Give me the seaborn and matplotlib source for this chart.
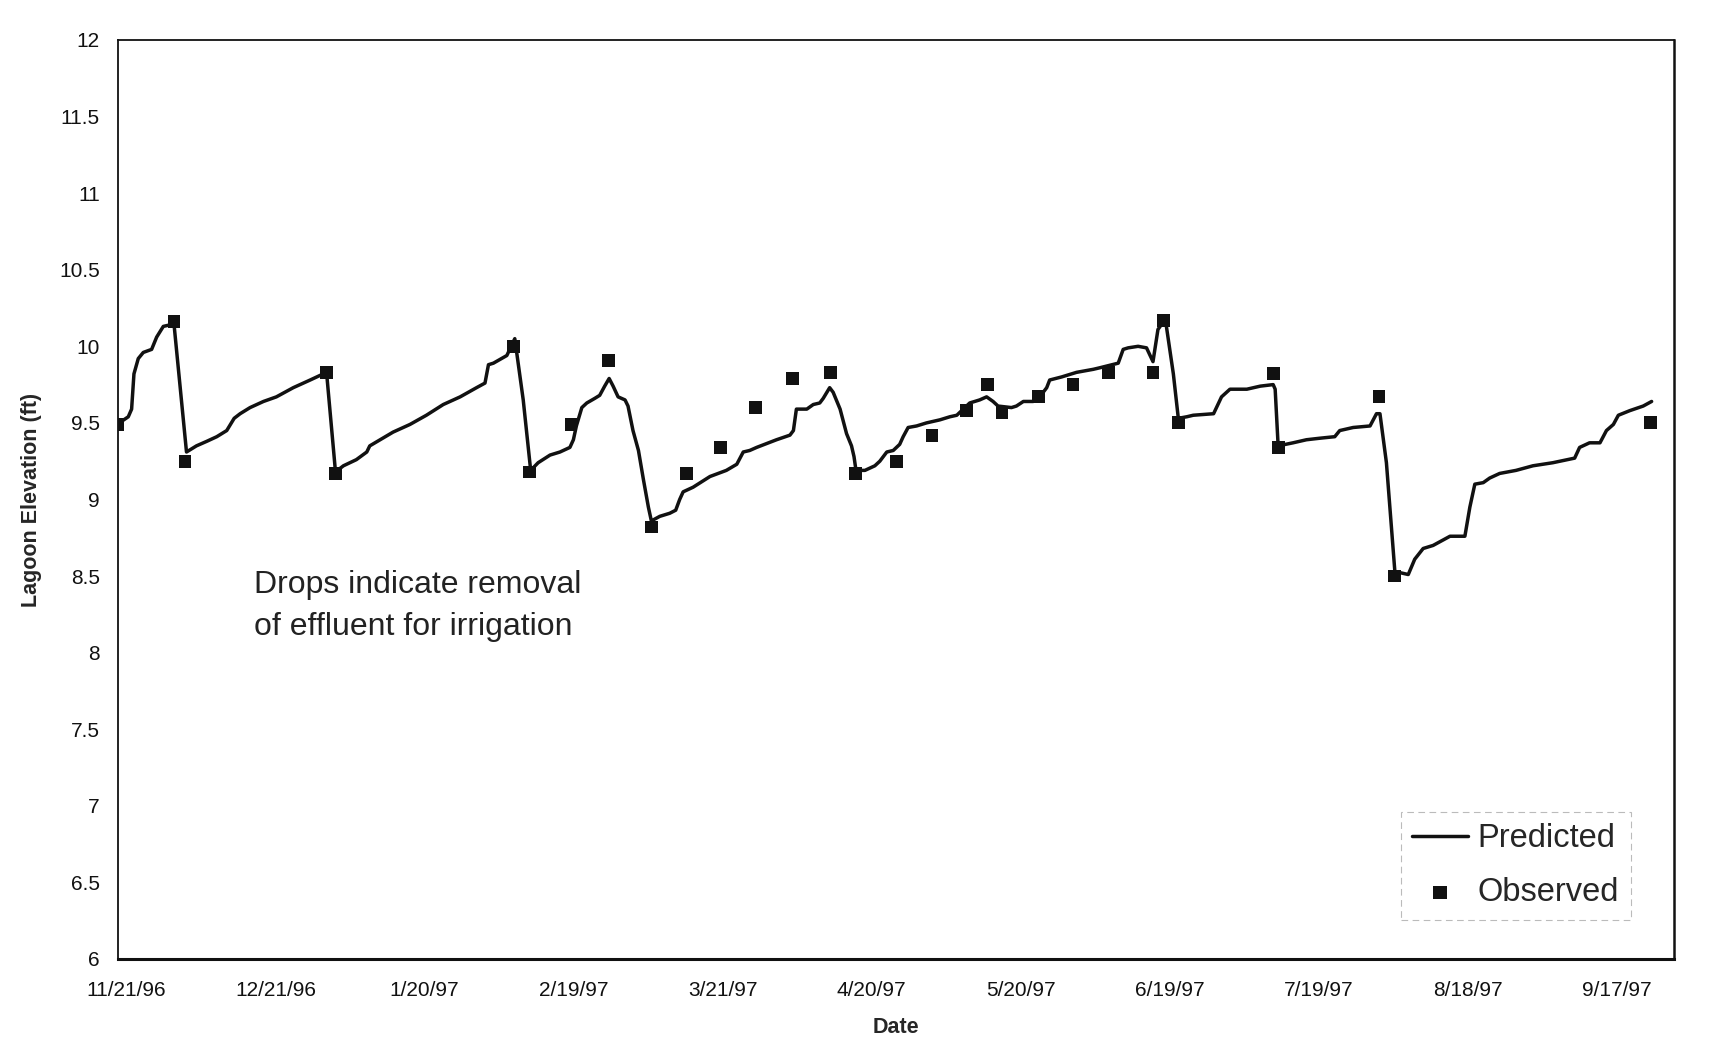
import matplotlib
matplotlib.use("Agg")
import matplotlib.pyplot as plt
from matplotlib.transforms import ScaledTranslation
import numpy as np
import pandas as pd
import seaborn as sns

START = pd.Timestamp("1996-11-21")

# predicted lagoon elevation, days after 11/21/96 and elevation (ft)
pred_days = [0.27, 2.08, 2.75, 3.22, 4.09, 5.1, 6.78, 7.79, 9.13, 10.47,
             11.27, 13.8, 15.8, 17.9, 19.9, 21.9, 23.4, 24.6, 26.6, 29.3,
             31.9, 35.3, 38.7, 41.3, 42.0, 43.8, 45.4, 48.0, 50.1, 50.7,
             55.4, 58.8, 62.1, 65.5, 68.9, 72.2, 73.9, 74.6, 75.6, 77.2,
             78.3, 79.9, 81.6, 83.1, 84.6, 87.0, 89.0, 91.0, 91.7, 92.3,
             93.4, 94.4, 96.0, 97.0, 98.0, 98.9, 99.7, 100.7, 102.1, 102.7,
             103.7, 104.8, 105.8, 106.8, 107.4, 109.1, 111.1, 112.3, 113.1, 113.8,
             115.8, 119.2, 122.5, 124.6, 125.9, 127.2, 128.6, 132.6, 135.3, 136.0,
             136.6, 138.7, 140.0, 141.3, 142.0, 143.3, 144.0, 145.4, 146.7, 147.7,
             148.2, 148.6, 150.4, 152.4, 153.4, 154.8, 156.1, 157.4, 158.1, 159.1,
             160.8, 162.8, 165.5, 167.5, 168.9, 170.2, 171.5, 173.5, 174.9, 176.2,
             177.2, 179.9, 180.9, 182.3, 184.3, 185.6, 187.0, 187.6, 190.0, 193.0,
             196.4, 197.7, 201.4, 202.4, 203.4, 205.4, 207.1, 208.4, 209.4, 210.5,
             211.1, 212.5, 213.5, 215.2, 216.5, 220.6, 222.2, 223.9, 227.3, 230.0,
             232.6, 233.0, 233.6, 236.6, 239.3, 242.0, 245.0, 246.0, 248.7, 252.1,
             253.4, 254.1, 255.4, 257.1, 259.8, 261.1, 262.8, 264.8, 268.2, 271.2,
             272.2, 273.2, 274.9, 276.2, 278.2, 281.5, 284.9, 288.9, 293.3, 294.3,
             296.3, 298.4, 299.7, 301.1, 302.1, 304.4, 307.1, 308.8]
pred_elev = [9.50, 9.54, 9.59, 9.82, 9.92, 9.96, 9.98, 10.06, 10.13, 10.14,
             10.15, 9.31, 9.35, 9.38, 9.41, 9.45, 9.53, 9.56, 9.60, 9.64,
             9.67, 9.73, 9.78, 9.82, 9.83, 9.18, 9.22, 9.26, 9.31, 9.35,
             9.44, 9.49, 9.55, 9.62, 9.67, 9.73, 9.76, 9.88, 9.89, 9.92,
             9.94, 10.05, 9.65, 9.19, 9.24, 9.29, 9.31, 9.34, 9.39, 9.48,
             9.60, 9.63, 9.66, 9.68, 9.74, 9.79, 9.74, 9.67, 9.65, 9.61,
             9.45, 9.32, 9.13, 8.95, 8.86, 8.89, 8.91, 8.93, 9.00, 9.05,
             9.08, 9.15, 9.19, 9.23, 9.31, 9.32, 9.34, 9.39, 9.42, 9.45,
             9.59, 9.59, 9.62, 9.63, 9.66, 9.73, 9.70, 9.59, 9.43, 9.35,
             9.28, 9.19, 9.19, 9.22, 9.25, 9.31, 9.32, 9.36, 9.41, 9.47,
             9.48, 9.50, 9.52, 9.54, 9.55, 9.59, 9.63, 9.65, 9.67, 9.64,
             9.61, 9.60, 9.61, 9.64, 9.64, 9.67, 9.73, 9.78, 9.80, 9.83,
             9.85, 9.86, 9.89, 9.98, 9.99, 10.00, 9.99, 9.90, 10.11, 10.16,
             10.13, 9.82, 9.53, 9.54, 9.55, 9.56, 9.67, 9.72, 9.72, 9.74,
             9.75, 9.72, 9.35, 9.37, 9.39, 9.40, 9.41, 9.45, 9.47, 9.48,
             9.56, 9.56, 9.24, 8.53, 8.51, 8.61, 8.68, 8.70, 8.76, 8.76,
             8.95, 9.10, 9.11, 9.14, 9.17, 9.19, 9.22, 9.24, 9.27, 9.34,
             9.37, 9.37, 9.45, 9.49, 9.55, 9.58, 9.61, 9.64]

# observed elevations
obs_days = [0.0, 11.3, 13.5, 42.0, 43.8, 79.6, 82.9, 91.2, 98.7, 107.4,
            114.4, 121.3, 128.4, 135.8, 143.5, 148.5, 156.8, 163.9, 170.9, 175.0,
            178.0, 185.3, 192.3, 199.4, 208.4, 210.5, 213.5, 232.7, 233.6, 253.9,
            257.1, 308.6]
obs_elev = [9.49, 10.16, 9.25, 9.83, 9.17, 10.00, 9.18, 9.49, 9.91, 8.82,
            9.17, 9.34, 9.60, 9.79, 9.83, 9.17, 9.25, 9.42, 9.58, 9.75,
            9.57, 9.67, 9.75, 9.83, 9.83, 10.17, 9.50, 9.82, 9.34, 9.67,
            8.50, 9.50]

tick_labels = ["11/21/96", "12/21/96", "1/20/97", "2/19/97", "3/21/97", "4/20/97",
               "5/20/97", "6/19/97", "7/19/97", "8/18/97", "9/17/97"]
y_ticks = [6, 6.5, 7, 7.5, 8, 8.5, 9, 9.5, 10, 10.5, 11, 11.5, 12]


def to_dates(days):
    return START + pd.to_timedelta(np.array(days), unit="D")


pred = pd.DataFrame({"Date": to_dates(pred_days), "Elevation": pred_elev})
obs = pd.DataFrame({"Date": to_dates(obs_days), "Elevation": obs_elev})

sns.set_style("white")
plt.rcParams["font.family"] = ["Liberation Sans", "DejaVu Sans"]

fig = plt.figure(figsize=(17.27, 10.58), dpi=100)
ax = fig.add_axes([0.0683, 0.0936, 0.901, 0.8686])

sns.lineplot(data=pred, x="Date", y="Elevation", ax=ax, color="#111111",
             linewidth=2.5, estimator=None, sort=False, label="Predicted")
sns.scatterplot(data=obs, x="Date", y="Elevation", ax=ax, color="#111111",
                marker="s", s=85, edgecolor="none", label="Observed", zorder=5)

ax.set_ylim(6, 12)
ax.set_yticks(y_ticks)
ax.set_yticklabels([f"{v:g}" for v in y_ticks])
ax.set_xlim(START, START + pd.Timedelta(days=313.3))
tick_dates = list(pd.to_datetime(tick_labels, format="%m/%d/%y"))
ax.set_xticks(tick_dates)
ax.set_xticklabels(tick_labels)
ax.tick_params(axis="both", length=0, labelsize=15, colors="#111111")
ax.tick_params(axis="y", pad=13)
ax.tick_params(axis="x", pad=16)
# labels in the original sit a little right of the date ticks
for lab in ax.get_xticklabels():
    lab.set_transform(lab.get_transform() + ScaledTranslation(0.087, 0, fig.dpi_scale_trans))

ax.set_xlabel("Date", fontsize=15.5, fontweight="bold", labelpad=12)
ax.set_ylabel("Lagoon Elevation (ft)", fontsize=15.5, fontweight="bold", labelpad=12)

for side in ["left", "right", "top", "bottom"]:
    ax.spines[side].set_visible(True)
    ax.spines[side].set_color("#111111")
    ax.spines[side].set_linewidth(1.3)
ax.spines["bottom"].set_linewidth(2.2)
ax.spines["right"].set_linewidth(1.8)

ax.text(0.0874, 0.384, "Drops indicate removal\nof effluent for irrigation",
        transform=ax.transAxes, fontsize=23, color="#222222",
        ha="left", va="center", linespacing=1.5)

leg = ax.legend(loc="upper left", bbox_to_anchor=(0.8245, 0.16), borderaxespad=0,
                fontsize=23.5, frameon=True, fancybox=False, handlelength=1.7,
                handletextpad=0.3, labelspacing=0.7, borderpad=0.35,
                markerscale=1.05)
leg.get_frame().set_edgecolor("#aaaaaa")
leg.get_frame().set_linewidth(0.8)
leg.get_frame().set_linestyle((0, (6, 4)))

fig.savefig("out.png", dpi=100)
